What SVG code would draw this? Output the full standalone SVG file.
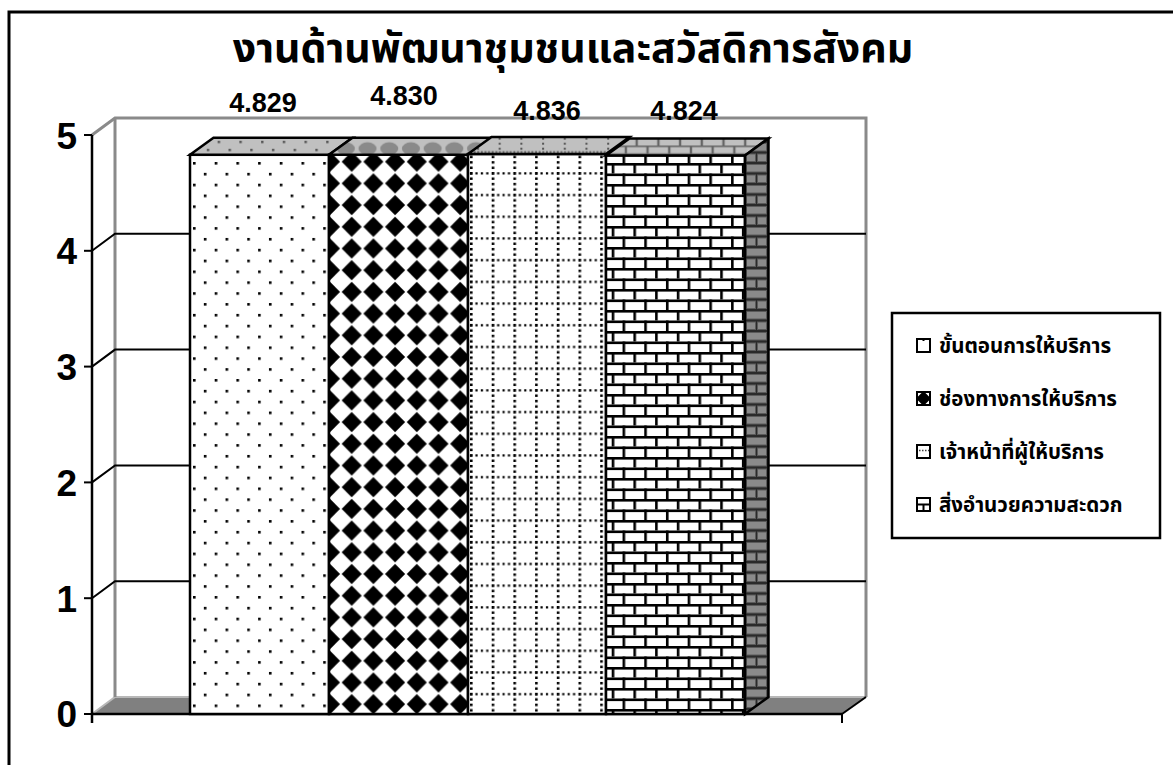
<svg xmlns="http://www.w3.org/2000/svg" width="1173" height="765" viewBox="0 0 1173 765">
<style>
.th{font-family:"Noto Sans Thai","Noto Sans","DejaVu Sans",sans-serif;fill:#000}
.num{font-family:"Liberation Sans",Arial,sans-serif;font-weight:bold;fill:#000}
.grid{stroke:#000;stroke-width:2;fill:none}
.wall{stroke:#8a8a8a;stroke-width:3;fill:none}
.edge{stroke:#000;stroke-width:2.5;stroke-linejoin:miter}
.ico{fill:#fff;stroke:#000;stroke-width:2}
.lg{font-size:20.5px;font-weight:bold}
</style>
<defs>
<pattern id="pDots" patternUnits="userSpaceOnUse" x="193" y="162" width="21.7" height="21.7">
<rect width="21.7" height="21.7" fill="#fff"/>
<rect x="0" y="0" width="2.6" height="2.6" fill="#000"/>
<rect x="10.85" y="10.85" width="2.6" height="2.6" fill="#000"/>
</pattern>
<pattern id="pDiam" patternUnits="userSpaceOnUse" x="340.85" y="150.85" width="21.7" height="21.7">
<rect width="21.7" height="21.7" fill="#fff"/>
<polygon points="10.85,0.8 20.9,10.85 10.85,20.9 0.8,10.85" fill="#000"/>
</pattern>
<pattern id="pGrid" patternUnits="userSpaceOnUse" x="470" y="172" width="21.7" height="21.7">
<rect width="21.7" height="21.7" fill="#fff"/>
<line x1="1.3" y1="0" x2="1.3" y2="21.7" stroke="#000" stroke-width="2.6" stroke-dasharray="2.6 2.8"/>
<line x1="0" y1="1.3" x2="21.7" y2="1.3" stroke="#000" stroke-width="2.2" stroke-dasharray="2.2 3.2"/>
</pattern>
<pattern id="pBrick" patternUnits="userSpaceOnUse" x="611.7" y="163" width="21.7" height="21">
<rect width="21.7" height="21" fill="#fff"/>
<rect x="0" y="0" width="21.7" height="2.6" fill="#000"/>
<rect x="0" y="10.5" width="21.7" height="2.6" fill="#000"/>
<rect x="0" y="0" width="2.6" height="10.5" fill="#000"/>
<rect x="10.85" y="10.5" width="2.6" height="10.5" fill="#000"/>
</pattern>
<pattern id="tDots" patternUnits="userSpaceOnUse" x="190" y="137.8" width="21.7" height="17">
<rect width="21.7" height="17" fill="#c0c0c0"/>
<rect x="6" y="3" width="2.4" height="2.4" fill="#555"/>
<rect x="16.85" y="11" width="2.4" height="2.4" fill="#555"/>
</pattern>
<pattern id="tDiam" patternUnits="userSpaceOnUse" x="335" y="137.7" width="21.7" height="17">
<rect width="21.7" height="17" fill="#c0c0c0"/>
<ellipse cx="10.85" cy="11" rx="9" ry="6.5" fill="#8a8a8a"/>
</pattern>
<pattern id="tGrid" patternUnits="userSpaceOnUse" x="470" y="137.7" width="21.7" height="17">
<rect width="21.7" height="17" fill="#c0c0c0"/>
<line x1="8" y1="0" x2="8" y2="12" stroke="#555" stroke-width="2" stroke-dasharray="2 3"/>
<line x1="0" y1="14.5" x2="21.7" y2="14.5" stroke="#555" stroke-width="2" stroke-dasharray="2 1.6"/>
</pattern>
<pattern id="tBrick" patternUnits="userSpaceOnUse" x="615" y="137.5" width="21.7" height="17">
<rect width="21.7" height="17" fill="#666"/>
<rect x="1.2" y="1.2" width="19.3" height="6.8" fill="#c0c0c0"/>
<rect x="-9.65" y="9.6" width="19.3" height="6.2" fill="#c0c0c0"/>
<rect x="12.05" y="9.6" width="19.3" height="6.2" fill="#c0c0c0"/>
</pattern>
<pattern id="sBrick" patternUnits="userSpaceOnUse" x="745" y="163" width="23" height="21">
<rect width="23" height="21" fill="#2a2a2a"/>
<rect x="1.5" y="1.5" width="20" height="7.5" fill="#8a8a8a" stroke="#5a5a5a" stroke-width="1"/>
<rect x="1.5" y="12" width="9" height="7.5" fill="#8a8a8a" stroke="#5a5a5a" stroke-width="1"/>
<rect x="12.5" y="12" width="9" height="7.5" fill="#8a8a8a" stroke="#5a5a5a" stroke-width="1"/>
</pattern>
</defs>

<rect x="0" y="0" width="1173" height="765" fill="#fff"/>
<rect id="frame" x="9" y="12" width="1200" height="800" fill="none" stroke="#000" stroke-width="3"/>

<text id="title" class="th" x="573" y="62" font-size="41" font-weight="bold" text-anchor="middle">งานด้านพัฒนาชุมชนและสวัสดิการสังคม</text>

<g id="walls">
<polygon points="92,714 842,714 866,697 115,697" fill="#808080"/>
<polyline points="92,714 115,697 866,697" stroke="#b8b8b8" stroke-width="2" fill="none"/>
<polyline class="wall" points="92,135 115,118 866,118 866,697"/>
<line class="wall" x1="115" y1="118" x2="115" y2="697" stroke-width="2.5"/>
<polyline class="grid" points="92,598.2 115,581.2 866,581.2"/>
<polyline class="grid" points="92,482.4 115,465.4 866,465.4"/>
<polyline class="grid" points="92,366.6 115,349.6 866,349.6"/>
<polyline class="grid" points="92,250.8 115,233.8 866,233.8"/>
<line x1="842" y1="714" x2="866" y2="697" stroke="#000" stroke-width="2"/>
</g>

<g id="axes">
<line x1="92" y1="135" x2="92" y2="723" stroke="#000" stroke-width="2.5"/>
<line x1="92" y1="714" x2="842" y2="714" stroke="#000" stroke-width="2.5"/>
<line x1="842" y1="714" x2="842" y2="723" stroke="#000" stroke-width="2"/>
<g stroke="#000" stroke-width="2">
<line x1="84" y1="714" x2="92" y2="714"/>
<line x1="84" y1="598.2" x2="92" y2="598.2"/>
<line x1="84" y1="482.4" x2="92" y2="482.4"/>
<line x1="84" y1="366.6" x2="92" y2="366.6"/>
<line x1="84" y1="250.8" x2="92" y2="250.8"/>
<line x1="84" y1="135" x2="92" y2="135"/>
</g>
<g class="num" font-size="37" text-anchor="end">
<text x="77" y="727">0</text>
<text x="77" y="611.5">1</text>
<text x="77" y="495.5">2</text>
<text x="77" y="380">3</text>
<text x="77" y="264">4</text>
<text x="77" y="148.5">5</text>
</g>
</g>

<g id="bar1">
<rect class="edge" x="190" y="154.8" width="139" height="559.2" fill="url(#pDots)"/>
<polygon class="edge" points="190,154.8 329,154.8 352.5,137.8 213.5,137.8" fill="url(#tDots)"/>
</g>
<g id="bar2">
<rect class="edge" x="329" y="154.7" width="139" height="559.3" fill="url(#pDiam)"/>
<polygon class="edge" points="329,154.7 468,154.7 491.5,137.7 352.5,137.7" fill="url(#tDiam)"/>
</g>
<g id="bar3">
<rect class="edge" x="468" y="154" width="138" height="560" fill="url(#pGrid)"/>
<polygon class="edge" points="468,154 606,154 629.5,137 491.5,137" fill="url(#tGrid)"/>
</g>
<g id="bar4">
<rect class="edge" x="606" y="155.4" width="139" height="558.6" fill="url(#pBrick)"/>
<polygon class="edge" points="606,155.4 745,155.4 768.5,138.4 629.5,138.4" fill="url(#tBrick)"/>
<polygon class="edge" points="745,155.4 768.5,138.4 768.5,697 745,714" fill="url(#sBrick)"/>
</g>

<g id="values" class="num" font-size="27" text-anchor="middle">
<text x="263" y="111.5">4.829</text>
<text x="404" y="105">4.830</text>
<text x="547" y="120">4.836</text>
<text x="684" y="120">4.824</text>
</g>

<g id="legend">
<rect x="892" y="313" width="268" height="225" fill="#fff" stroke="#000" stroke-width="2.5"/>
<g id="leg1">
<rect class="ico" x="917" y="339" width="13" height="13"/>
<rect x="922.5" y="339" width="2" height="2" fill="#000"/>
<text class="th lg" x="939" y="353">ขั้นตอนการให้บริการ</text>
</g>
<g id="leg2">
<rect class="ico" x="917" y="392" width="13" height="13"/>
<polygon points="923.5,392.5 929.5,398.5 923.5,404.5 917.5,398.5" fill="#000" stroke="#000" stroke-width="2"/>
<text class="th lg" x="939" y="406">ช่องทางการให้บริการ</text>
</g>
<g id="leg3">
<rect class="ico" x="917" y="445" width="13" height="13"/>
<line x1="919" y1="450.5" x2="929" y2="450.5" stroke="#444" stroke-width="1.5" stroke-dasharray="1.5 1.5"/>
<text class="th lg" x="939" y="459">เจ้าหน้าที่ผู้ให้บริการ</text>
</g>
<g id="leg4">
<rect class="ico" x="917" y="498" width="13" height="13"/>
<line x1="917" y1="504.5" x2="930" y2="504.5" stroke="#000" stroke-width="2"/>
<line x1="923.5" y1="504.5" x2="923.5" y2="511" stroke="#000" stroke-width="2"/>
<text class="th lg" x="939" y="512">สิ่งอำนวยความสะดวก</text>
</g>
</g>
</svg>
